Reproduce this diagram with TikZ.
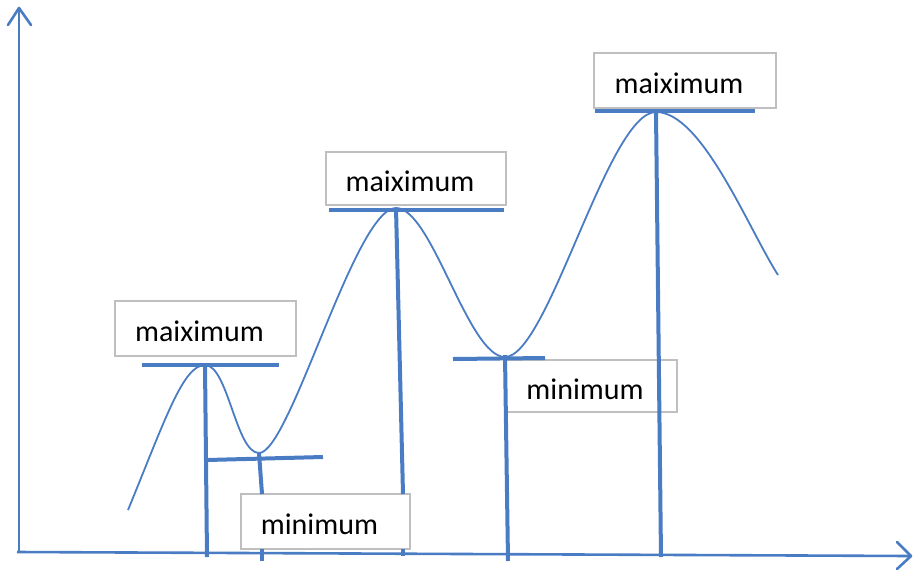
\documentclass[tikz,border=0pt]{standalone}
\usepackage{fontspec}
\setmainfont{Carlito}
\definecolor{lblue}{HTML}{4A7CC4}
\definecolor{bgray}{HTML}{BFBFBF}
\newcommand{\boxtext}[1]{\hspace*{-12pt}\raisebox{-3pt}[\height][\depth]{#1}}
\begin{document}
\begin{tikzpicture}[x=1pt,y=-1pt,
  axisline/.style={draw=lblue,line width=2.6pt},
  curveline/.style={draw=lblue,line width=1.8pt},
  thickline/.style={draw=lblue,line width=4pt},
  labelbox/.style={draw=bgray,line width=1.8pt,fill=white,minimum width=180pt,minimum height=54pt,inner sep=0pt,font=\fontsize{30}{35}\selectfont,text=black}]
\useasboundingbox (0,0) rectangle (913,574);
% axes
\coordinate (o) at (19,552);
\coordinate (ytop) at (19,8);
\coordinate (xend) at (911,556);
\draw[axisline] (o) -- (ytop);
\draw[axisline] (17,552) -- (xend);
\draw[axisline,line cap=round,line join=round] (8,25) -- (ytop) -- (31,25);
\draw[axisline,line cap=round,line join=round] (897,542) -- (xend) -- (897,569);
% extremes
\coordinate (s) at (128,510);
\coordinate (p1) at (205,365);
\coordinate (m1) at (259,453);
\coordinate (p2) at (396,208);
\coordinate (m2) at (505,357);
\coordinate (p3) at (656,112);
\coordinate (e) at (778,275);
% curve
\draw[curveline] (s) .. controls (165,420) and (183,365) .. (p1)
  .. controls (228,365) and (236,453) .. (m1)
  .. controls (290,453) and (355,208) .. (p2)
  .. controls (432,208) and (468,357) .. (m2)
  .. controls (548,357) and (608,112) .. (p3)
  .. controls (702,112) and (748,228) .. (e);
% boxes
\node[labelbox,minimum width=181pt,minimum height=55pt] (b1) at (205.5,328.5) {\boxtext{maiximum}};
\node[labelbox,minimum width=169pt,minimum height=55pt] (b2) at (325.5,521.5) {\boxtext{minimum}};
\node[labelbox,minimum width=180pt,minimum height=53pt] (b3) at (416,178.5) {\boxtext{maiximum}};
\node[labelbox,minimum width=172pt,minimum height=52pt] (b4) at (591,386) {\boxtext{minimum}};
\node[labelbox,minimum width=182pt,minimum height=55pt] (b5) at (685,80.5) {\boxtext{maiximum}};
% horizontal markers
\draw[thickline] (142,365) -- (279,365);
\draw[thickline] (207,460) -- (323,457);
\draw[thickline] (329,209.5) -- (504,209.5);
\draw[thickline] (453,359) -- (545,358);
\draw[thickline] (595,111) -- (755,111);
% vertical markers
\coordinate (v1) at (207,557);
\coordinate (v2) at (262,561);
\coordinate (v3) at (403,556);
\coordinate (v4) at (508,561);
\coordinate (v5) at (661,557);
\draw[thickline] (p1) -- (v1);
\draw[thickline] (m1) -- (262,494);
\draw[thickline] (262,549) -- (v2);
\draw[thickline] (p2) -- (403,494);
\draw[thickline] (403,549) -- (v3);
\draw[thickline] ([yshift=2pt]m2) -- (v4);
\draw[thickline] (p3) -- (v5);
\end{tikzpicture}
\end{document}
